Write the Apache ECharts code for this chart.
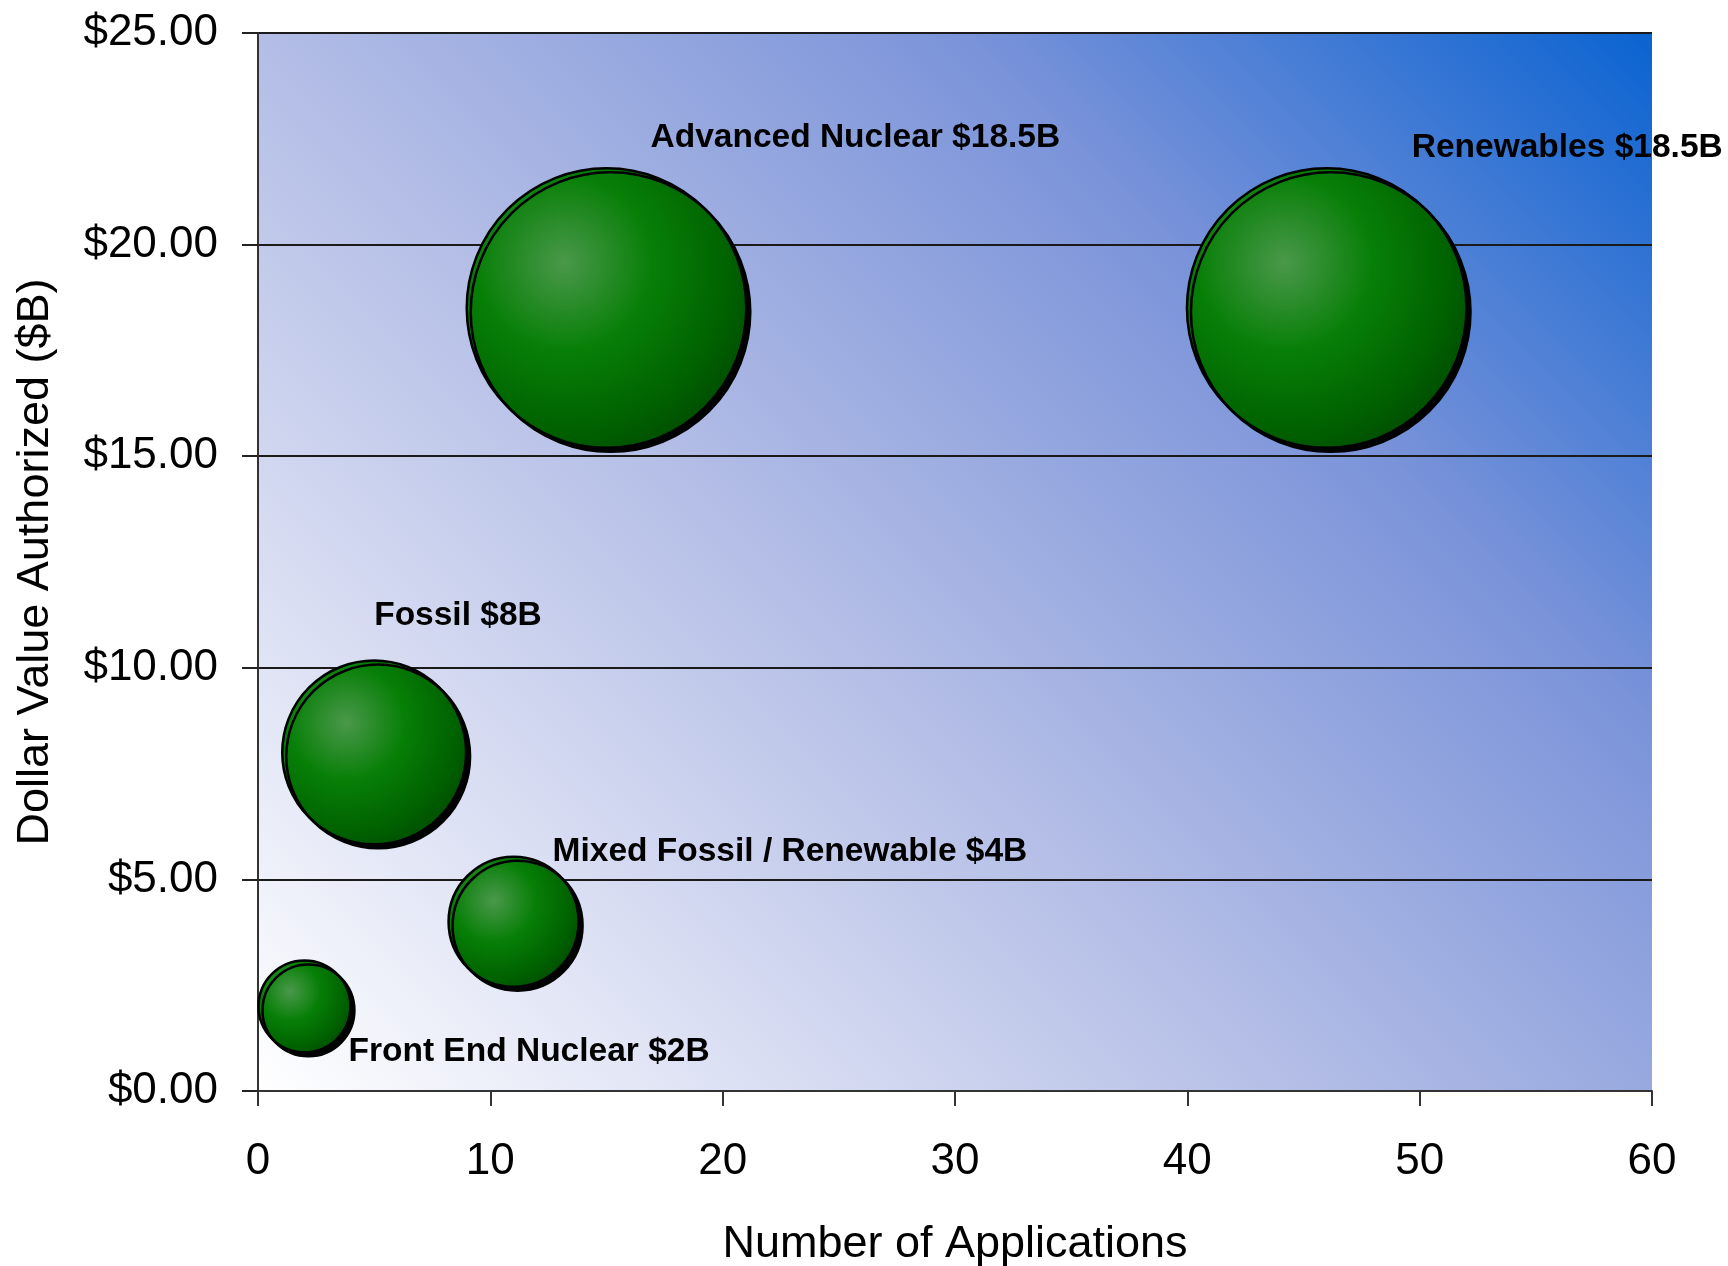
<!DOCTYPE html>
<html>
<head>
<meta charset="utf-8">
<script src="https://cdn.jsdelivr.net/npm/echarts@6/dist/echarts.min.js"></script>
<style>
  html, body { margin: 0; padding: 0; background: #ffffff; }
  #chart { width: 1728px; height: 1266px; }
</style>
</head>
<body>
<div id="chart"></div>
<script>
// ---- Data ----
const categories = ['Front End Nuclear', 'Fossil', 'Mixed Fossil / Renewable', 'Advanced Nuclear', 'Renewables'];
const applications = [2, 5, 11, 15, 46];
const dollarsB = [2, 8, 4, 18.5, 18.5];
const xTicks = [0, 10, 20, 30, 40, 50, 60];
const yTicks = [0, 5, 10, 15, 20, 25];

// ---- Style / layout (not data) ----
const FONT = 'Liberation Sans, Arial, sans-serif';
const GRID = { left: 258, right: 76, top: 33, bottom: 175 };
const BUBBLE_K = 65; // diameter per sqrt($B): bubble area proportional to value
const labelOffsets = {
  'Front End Nuclear': [44, 45],
  'Fossil': [0, -137],
  'Mixed Fossil / Renewable': [39, -70],
  'Advanced Nuclear': [44, -170],
  'Renewables': [85, -160]
};

const W = 1728, H = 1266;
const pw = W - GRID.left - GRID.right, ph = H - GRID.top - GRID.bottom;
const half = (pw + ph) / 2;
const bgGradient = {
  type: 'linear', global: true,
  x: GRID.left, y: GRID.top + ph,
  x2: GRID.left + half, y2: GRID.top + ph - half,
  colorStops: [
    { offset: 0, color: '#ffffff' },
    { offset: 0.43, color: '#b3bde6' },
    { offset: 0.72, color: '#7a93d9' },
    { offset: 1, color: '#0a63d1' }
  ]
};

const bubbleFill = {
  type: 'radial', x: 0.35, y: 0.34, r: 0.78,
  colorStops: [
    { offset: 0, color: '#4a984a' },
    { offset: 0.4, color: '#077f07' },
    { offset: 0.75, color: '#006200' },
    { offset: 1, color: '#004800' }
  ]
};

const seriesData = categories.map((name, i) => ({
  name: name,
  value: [applications[i], dollarsB[i], dollarsB[i]]
}));

const chart = echarts.init(document.getElementById('chart'), null, { renderer: 'canvas' });
chart.setOption({
  animation: false,
  backgroundColor: '#ffffff',
  grid: {
    left: GRID.left, right: GRID.right, top: GRID.top, bottom: GRID.bottom,
    containLabel: false, outerBoundsMode: 'none',
    show: true, backgroundColor: bgGradient, borderWidth: 0
  },
  xAxis: {
    type: 'value',
    min: xTicks[0], max: xTicks[xTicks.length - 1], interval: 10,
    name: 'Number of Applications',
    nameLocation: 'middle', nameGap: 131,
    nameTextStyle: { fontFamily: FONT, fontSize: 45, color: '#000' },
    axisLine: { show: true, lineStyle: { color: '#333', width: 2 } },
    axisTick: { show: true, length: 15, lineStyle: { color: '#333', width: 2 } },
    axisLabel: { fontFamily: FONT, fontSize: 44, color: '#000', margin: 49 },
    splitLine: { show: false }
  },
  yAxis: {
    type: 'value',
    min: yTicks[0], max: yTicks[yTicks.length - 1], interval: 5,
    name: 'Dollar Value Authorized ($B)',
    nameLocation: 'middle', nameGap: 200, nameRotate: 90,
    nameTextStyle: { fontFamily: FONT, fontSize: 45, color: '#000' },
    axisLine: { show: true, lineStyle: { color: '#333', width: 2 } },
    axisTick: { show: true, length: 16, lineStyle: { color: '#222', width: 2 } },
    axisLabel: {
      fontFamily: FONT, fontSize: 44, color: '#000', margin: 40,
      formatter: v => '$' + v.toFixed(2)
    },
    splitLine: { show: true, lineStyle: { color: '#1a1a1a', width: 2 } }
  },
  series: [{
    type: 'scatter',
    data: seriesData,
    symbol: 'circle',
    symbolSize: v => BUBBLE_K * Math.sqrt(v[2]),
    itemStyle: {
      color: bubbleFill,
      borderColor: '#000', borderWidth: 2.5,
      shadowColor: '#000', shadowBlur: 0, shadowOffsetX: 4, shadowOffsetY: 4,
      opacity: 1
    },
    label: {
      show: true,
      position: 'inside',
      align: 'left',
      verticalAlign: 'middle',
      fontFamily: FONT, fontSize: 33.5, fontWeight: 'bold', color: '#000',
      formatter: p => p.name + ' $' + p.value[1] + 'B'
    },
    labelLayout: p => {
      const off = labelOffsets[categories[p.dataIndex]];
      return { dx: off[0], dy: off[1], hideOverlap: false };
    },
    emphasis: { disabled: true }
  }]
});
</script>
</body>
</html>
